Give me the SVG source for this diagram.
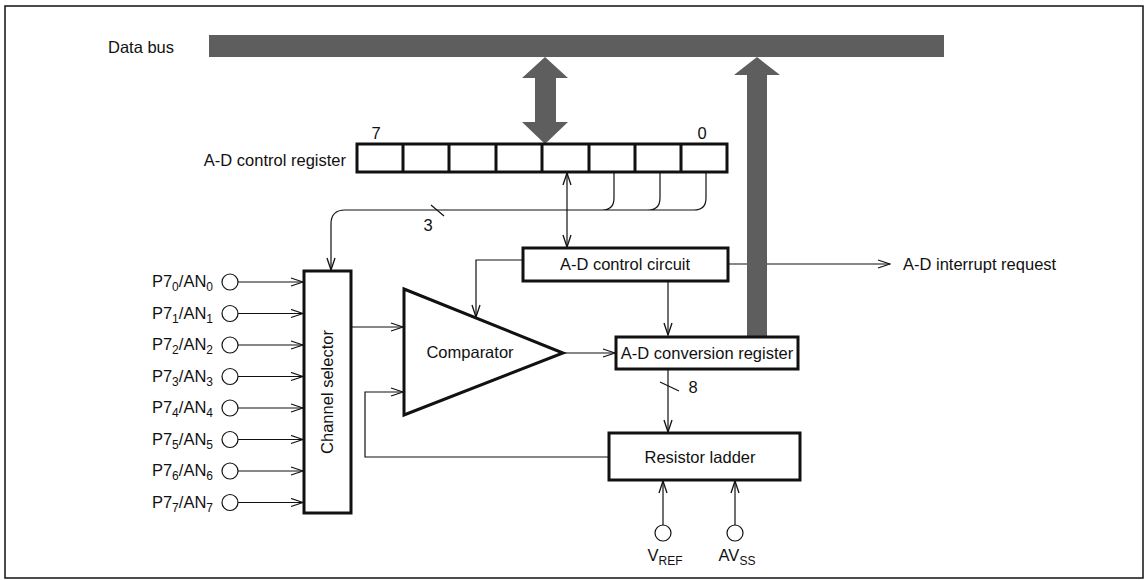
<svg xmlns="http://www.w3.org/2000/svg" width="1148" height="580" viewBox="0 0 1148 580">
<defs>
<marker id="ah" markerUnits="userSpaceOnUse" markerWidth="14" markerHeight="10" refX="13" refY="5" orient="auto-start-reverse">
<path d="M1,1 L13,5 L1,9" fill="none" stroke="#111" stroke-width="1.3"/>
</marker>
<style>
text{font-family:"Liberation Sans",Arial,sans-serif;font-size:16.5px;fill:#111}
.sub{font-size:12px}
.box{fill:#fff;stroke:#111;stroke-width:3}
.ln{fill:none;stroke:#111;stroke-width:1.2}
.bus{fill:#5e5e5e;stroke:none}
</style>
</defs>
<rect x="5" y="6" width="1138" height="572" fill="#fff" stroke="#111" stroke-width="1.5"/>

<g id="connectors">
<path class="ln" d="M614,172 V198 Q614,210 602,210 M660,172 V198 Q660,210 648,210 M706,172 V198 Q706,210 694,210 H345 Q331,210 331,224 V270" marker-end="url(#ah)"/>
<line class="ln" x1="431" y1="205" x2="444" y2="216"/>
<line class="ln" x1="567" y1="173" x2="567" y2="247" marker-start="url(#ah)" marker-end="url(#ah)"/>
<path class="ln" d="M523,260 H476 V317" marker-end="url(#ah)"/>
<line class="ln" x1="728" y1="264" x2="890" y2="264" marker-end="url(#ah)"/>
<line class="ln" x1="668" y1="281" x2="668" y2="335" marker-end="url(#ah)"/>
<line class="ln" x1="563" y1="353" x2="615" y2="353" marker-end="url(#ah)"/>
<line class="ln" x1="351" y1="327" x2="403" y2="327" marker-end="url(#ah)"/>
<line class="ln" x1="668" y1="369" x2="668" y2="432" marker-end="url(#ah)"/>
<line class="ln" x1="660" y1="382" x2="679" y2="391"/>
<path class="ln" d="M609,457 H365 V392 H403" marker-end="url(#ah)"/>
<g>
<line class="ln" x1="238" y1="282" x2="303" y2="282" marker-end="url(#ah)"/>
<line class="ln" x1="238" y1="313.5" x2="303" y2="313.5" marker-end="url(#ah)"/>
<line class="ln" x1="238" y1="345" x2="303" y2="345" marker-end="url(#ah)"/>
<line class="ln" x1="238" y1="376.5" x2="303" y2="376.5" marker-end="url(#ah)"/>
<line class="ln" x1="238" y1="408" x2="303" y2="408" marker-end="url(#ah)"/>
<line class="ln" x1="238" y1="439.5" x2="303" y2="439.5" marker-end="url(#ah)"/>
<line class="ln" x1="238" y1="471" x2="303" y2="471" marker-end="url(#ah)"/>
<line class="ln" x1="238" y1="502.5" x2="303" y2="502.5" marker-end="url(#ah)"/>
</g>
<line class="ln" x1="663" y1="525" x2="663" y2="481" marker-end="url(#ah)"/>
<line class="ln" x1="735" y1="525" x2="735" y2="481" marker-end="url(#ah)"/>
<polygon class="bus" points="545,57 568,78 556,78 556,122 568,122 545,144 522,122 535,122 535,78 522,78"/>
<polygon class="bus" points="757,57 780,75 767,75 767,336 747,336 747,75 734,75"/>
</g>

<g id="data-bus">
<rect class="bus" x="209" y="35" width="735" height="22"/>
<text x="108" y="53">Data bus</text>
</g>

<g id="ad-control-register">
<rect class="box" x="357" y="144" width="370" height="28"/>
<path fill="none" stroke="#111" stroke-width="3" d="M403,144 V172 M449,144 V172 M496,144 V172 M542,144 V172 M589,144 V172 M635,144 V172 M681,144 V172"/>
<text x="346" y="166" text-anchor="end">A-D control register</text>
<text x="376" y="139" text-anchor="middle">7</text>
<text x="702" y="139" text-anchor="middle">0</text>
<text x="428" y="231" text-anchor="middle">3</text>
</g>

<g id="channel-selector">
<rect class="box" x="304" y="271" width="47" height="242"/>
<text transform="translate(333,392) rotate(-90)" text-anchor="middle">Channel selector</text>
</g>

<g id="comparator">
<polygon class="box" points="404,289 563,353 404,415"/>
<text x="470" y="358" text-anchor="middle">Comparator</text>
</g>

<g id="ad-control-circuit">
<rect class="box" x="523" y="248" width="205" height="33"/>
<text x="625" y="270" text-anchor="middle">A-D control circuit</text>
</g>

<g id="ad-conversion-register">
<rect class="box" x="616" y="337" width="182" height="32"/>
<text x="707" y="359" text-anchor="middle">A-D conversion register</text>
<text x="693" y="393" text-anchor="middle">8</text>
</g>

<g id="resistor-ladder">
<rect class="box" x="609" y="433" width="191" height="47"/>
<text x="700" y="463" text-anchor="middle">Resistor ladder</text>
</g>

<g id="interrupt-request">
<text x="903" y="270">A-D interrupt request</text>
</g>

<g id="pins" fill="#fff" stroke="#111" stroke-width="1.2">
<circle cx="230" cy="282" r="8"/>
<circle cx="230" cy="313.5" r="8"/>
<circle cx="230" cy="345" r="8"/>
<circle cx="230" cy="376.5" r="8"/>
<circle cx="230" cy="408" r="8"/>
<circle cx="230" cy="439.5" r="8"/>
<circle cx="230" cy="471" r="8"/>
<circle cx="230" cy="502.5" r="8"/>
<circle cx="663" cy="533" r="8"/>
<circle cx="735" cy="533" r="8"/>
</g>

<g id="pin-labels">
<text x="213" y="287" text-anchor="end">P7<tspan class="sub" dy="4">0</tspan><tspan dy="-4">/AN</tspan><tspan class="sub" dy="4">0</tspan></text>
<text x="213" y="318.5" text-anchor="end">P7<tspan class="sub" dy="4">1</tspan><tspan dy="-4">/AN</tspan><tspan class="sub" dy="4">1</tspan></text>
<text x="213" y="350" text-anchor="end">P7<tspan class="sub" dy="4">2</tspan><tspan dy="-4">/AN</tspan><tspan class="sub" dy="4">2</tspan></text>
<text x="213" y="381.5" text-anchor="end">P7<tspan class="sub" dy="4">3</tspan><tspan dy="-4">/AN</tspan><tspan class="sub" dy="4">3</tspan></text>
<text x="213" y="413" text-anchor="end">P7<tspan class="sub" dy="4">4</tspan><tspan dy="-4">/AN</tspan><tspan class="sub" dy="4">4</tspan></text>
<text x="213" y="444.5" text-anchor="end">P7<tspan class="sub" dy="4">5</tspan><tspan dy="-4">/AN</tspan><tspan class="sub" dy="4">5</tspan></text>
<text x="213" y="476" text-anchor="end">P7<tspan class="sub" dy="4">6</tspan><tspan dy="-4">/AN</tspan><tspan class="sub" dy="4">6</tspan></text>
<text x="213" y="507.5" text-anchor="end">P7<tspan class="sub" dy="4">7</tspan><tspan dy="-4">/AN</tspan><tspan class="sub" dy="4">7</tspan></text>
<text x="665" y="561" text-anchor="middle">V<tspan class="sub" dy="4">REF</tspan></text>
<text x="737" y="561" text-anchor="middle">AV<tspan class="sub" dy="4">SS</tspan></text>
</g>
</svg>
